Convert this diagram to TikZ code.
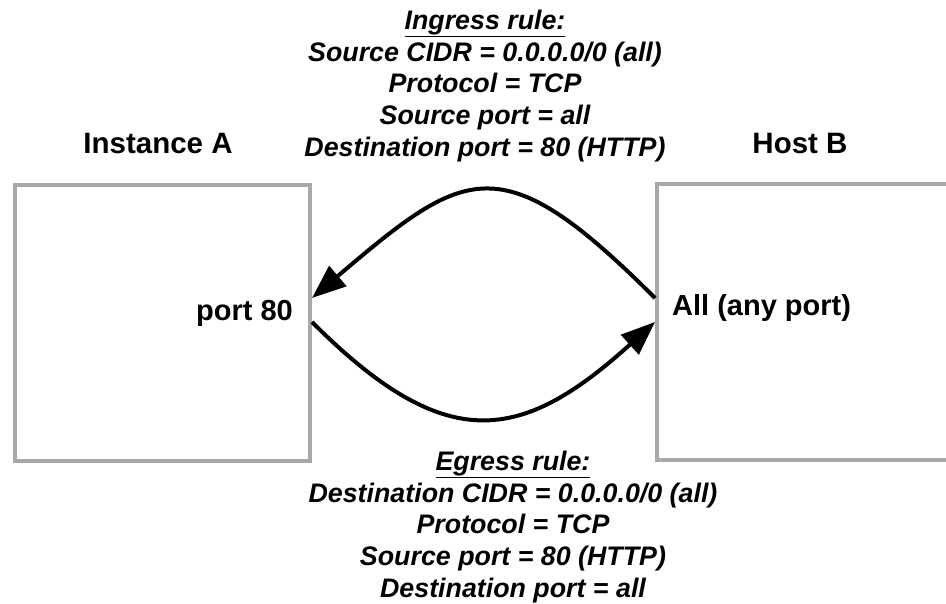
\documentclass[tikz,border=0pt]{standalone}
\usepackage{fontspec}
\setmainfont{Liberation Sans}
\usetikzlibrary{arrows.meta}
\definecolor{boxgray}{HTML}{A8A8A8}
\begin{document}
\begin{tikzpicture}[x=1pt,y=-1pt,
  box/.style={draw=boxgray, line width=4pt, fill=white, inner sep=0pt},
  title/.style={font=\fontsize{29.5}{32}\selectfont\bfseries, inner sep=0pt},
  portlbl/.style={font=\fontsize{29}{32}\selectfont\bfseries, inner sep=0pt},
  rule/.style={font=\fontsize{26.8}{31.6}\selectfont\bfseries\itshape, align=center, inner sep=0pt},
  flow/.style={line width=4pt, -{Triangle[length=34pt,width=26pt]}}]
\clip (0,0) rectangle (946,604);
\useasboundingbox (0,0) rectangle (946,604);
\node[box, minimum width=295pt, minimum height=276pt] (A) at (162.5,323) {};
\node[box, minimum width=308pt, minimum height=276pt] (B) at (811,322) {};
\node[title] (ta) at (158,143) {Instance A};
\node[title] (tb) at (800,143) {Host B};
\node[portlbl, anchor=east] (p80) at (293,313) {port 80};
\node[portlbl, anchor=west] (pall) at (672,308) {All (any port)};
\node[rule] (ing) at (485,86) {\underline{Ingress rule:}\\Source CIDR = 0.0.0.0/0 (all)\\Protocol = TCP\\Source port = all\\Destination port = 80 (HTTP)};
\node[rule] (egr) at (513,527) {\underline{Egress rule:}\\Destination CIDR = 0.0.0.0/0 (all)\\Protocol = TCP\\Source port = 80 (HTTP)\\Destination port = all};
\draw[flow] ([yshift=24pt]B.west) .. controls +(-154,-154) and +(154,-131) .. ([yshift=25pt]A.east);
\draw[flow] ([yshift=1pt]A.east) .. controls +(134,134) and +(-134,121) .. (B.west);
\end{tikzpicture}
\end{document}
